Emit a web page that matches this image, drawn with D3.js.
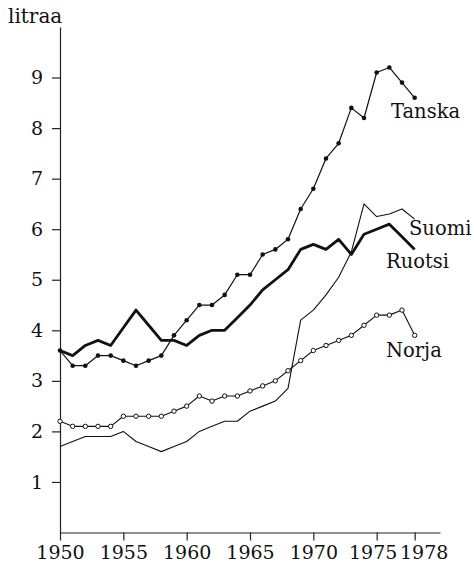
<!DOCTYPE html>
<html>
<head>
<meta charset="utf-8">
<script src="https://cdn.jsdelivr.net/npm/d3@7"></script>
<style>
  body { margin: 0; background: #fff; }
  text { font-family: "DejaVu Serif", serif; fill: #111; }
</style>
</head>
<body>
<div id="chart"></div>
<script>
//years on the x axis
var years = [1950, 1951, 1952, 1953, 1954, 1955, 1956, 1957, 1958, 1959,
             1960, 1961, 1962, 1963, 1964, 1965, 1966, 1967, 1968, 1969,
             1970, 1971, 1972, 1973, 1974, 1975, 1976, 1977, 1978];

//litres per person
var tanska = [3.6, 3.3, 3.3, 3.5, 3.5, 3.4, 3.3, 3.4, 3.5, 3.9,
              4.2, 4.5, 4.5, 4.7, 5.1, 5.1, 5.5, 5.6, 5.8, 6.4,
              6.8, 7.4, 7.7, 8.4, 8.2, 9.1, 9.2, 8.9, 8.6];
var ruotsi = [3.6, 3.5, 3.7, 3.8, 3.7, 4.05, 4.4, 4.1, 3.8, 3.8,
              3.7, 3.9, 4.0, 4.0, 4.25, 4.5, 4.8, 5.0, 5.2, 5.6,
              5.7, 5.6, 5.8, 5.5, 5.9, 6.0, 6.1, 5.85, 5.6];
var suomi = [1.7, 1.8, 1.9, 1.9, 1.9, 2.0, 1.8, 1.7, 1.6, 1.7,
             1.8, 2.0, 2.1, 2.2, 2.2, 2.4, 2.5, 2.6, 2.85, 4.2,
             4.4, 4.7, 5.05, 5.55, 6.5, 6.25, 6.3, 6.4, 6.2];
var norja = [2.2, 2.1, 2.1, 2.1, 2.1, 2.3, 2.3, 2.3, 2.3, 2.4,
             2.5, 2.7, 2.6, 2.7, 2.7, 2.8, 2.9, 3.0, 3.2, 3.4,
             3.6, 3.7, 3.8, 3.9, 4.1, 4.3, 4.3, 4.4, 3.9];

//tick labels
var xTicks = [1950, 1955, 1960, 1965, 1970, 1975, 1978];
var yTicks = [1, 2, 3, 4, 5, 6, 7, 8, 9];

//Width and height
var w = 474;
var h = 565;

var svg = d3.select('#chart')
            .append('svg')
            .attr('width', w)
            .attr('height', h);

var x = d3.scaleLinear().domain([1950, 1980]).range([60, 440]);
var y = d3.scaleLinear().domain([0, 10]).range([532.5, 27]);

//x axis
var xAxis = svg.append('g')
    .attr('transform', 'translate(0,' + y(0) + ')')
    .call(d3.axisBottom(x).tickValues(xTicks).tickFormat(d3.format('d'))
          .tickSize(8).tickSizeOuter(0).tickPadding(5));

//y axis
var yAxis = svg.append('g')
    .attr('transform', 'translate(' + x(1950) + ',0)')
    .call(d3.axisLeft(y).tickValues(yTicks).tickSize(8).tickSizeOuter(0).tickPadding(9));

svg.selectAll('.domain, .tick line').attr('stroke', '#222').attr('stroke-width', 1.2);
svg.selectAll('.tick text').attr('font-size', 19).attr('font-family', '"DejaVu Serif", serif').attr('fill', '#111');

//the last two year labels sit apart a little
xAxis.selectAll('.tick text').attr('dx', function (d) {
  if (d === 1975) return -4;
  if (d === 1978) return 9;
  return 0;
});

//unit label
svg.append('text')
   .attr('x', 8)
   .attr('y', 23)
   .attr('font-size', 20)
   .text('litraa');

var line = d3.line()
    .x(function (d, i) { return x(years[i]); })
    .y(function (d) { return y(d); });

//the four series
var series = [
  { name: 'Suomi', values: suomi, width: 1.1 },
  { name: 'Norja', values: norja, width: 1.1 },
  { name: 'Tanska', values: tanska, width: 1.2 },
  { name: 'Ruotsi', values: ruotsi, width: 2.8 }
];

svg.selectAll('path.serie')
   .data(series)
   .enter()
   .append('path')
   .attr('class', 'serie')
   .attr('fill', 'none')
   .attr('stroke', '#111')
   .attr('stroke-linejoin', 'round')
   .attr('stroke-width', function (d) { return d.width; })
   .attr('d', function (d) { return line(d.values); });

//filled dots for Tanska
svg.selectAll('circle.tanska')
   .data(tanska)
   .enter()
   .append('circle')
   .attr('class', 'tanska')
   .attr('cx', function (d, i) { return x(years[i]); })
   .attr('cy', function (d) { return y(d); })
   .attr('r', 2.3)
   .attr('fill', '#111');

//open circles for Norja
svg.selectAll('circle.norja')
   .data(norja)
   .enter()
   .append('circle')
   .attr('class', 'norja')
   .attr('cx', function (d, i) { return x(years[i]); })
   .attr('cy', function (d) { return y(d); })
   .attr('r', 2.2)
   .attr('fill', '#fff')
   .attr('stroke', '#111')
   .attr('stroke-width', 1);

//names next to the line ends
var labels = [
  { name: 'Tanska', x: 391, y: 118 },
  { name: 'Suomi', x: 409, y: 235 },
  { name: 'Ruotsi', x: 386, y: 268 },
  { name: 'Norja', x: 386, y: 357 }
];

svg.selectAll('text.name')
   .data(labels)
   .enter()
   .append('text')
   .attr('class', 'name')
   .attr('x', function (d) { return d.x; })
   .attr('y', function (d) { return d.y; })
   .attr('font-size', 19.5)
   .text(function (d) { return d.name; });
</script>
</body>
</html>
